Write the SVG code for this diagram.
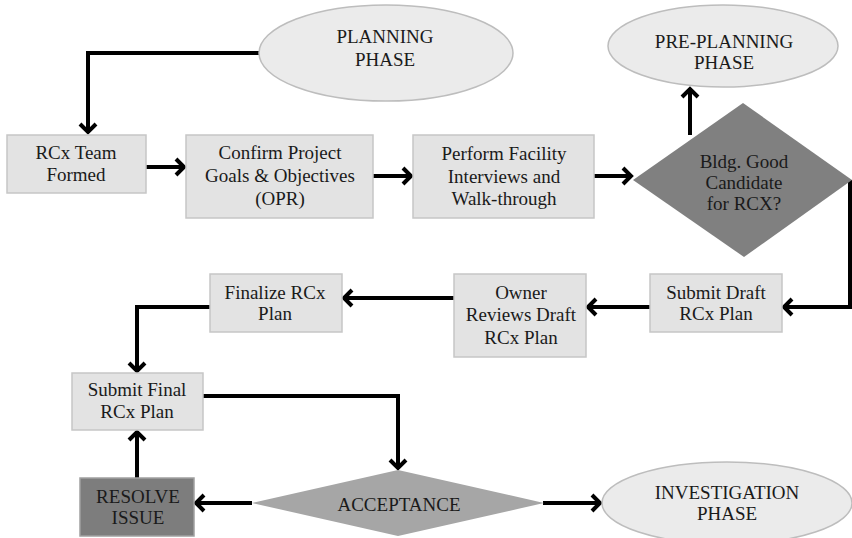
<svg xmlns="http://www.w3.org/2000/svg" width="852" height="538" viewBox="0 0 852 538">
<style>
.box{fill:#e3e3e3;stroke:#c6c6c6;stroke-width:1.5}
.oval{fill:#ebebeb;stroke:#bdbdbd;stroke-width:1.5}
.dk{fill:#808080}
.acc{fill:#a6a6a6}
.res{fill:#7d7d7d;stroke:#a0a0a0;stroke-width:1.5}
text{font-family:"Liberation Serif","Times New Roman",serif;font-size:19px;fill:#1a1a1a;text-anchor:middle}
.c{fill:none;stroke:#000;stroke-width:4;marker-end:url(#ah)}
</style>
<defs>
<marker id="ah" viewBox="0 0 14 20" refX="11" refY="10" markerWidth="14" markerHeight="20" markerUnits="userSpaceOnUse" orient="auto">
<path d="M2,2 L10,10 L2,18" fill="none" stroke="#000" stroke-width="4"/>
</marker>
</defs>
<rect width="852" height="538" fill="#fff"/>
<g id="connectors">
<path class="c" d="M259,53 H88 V133"/>
<path class="c" d="M146,167 H185"/>
<path class="c" d="M373,176 H412"/>
<path class="c" d="M594,176 H632"/>
<path class="c" d="M690,135 V88"/>
<path class="c" d="M850,180 V307 H783"/>
<path class="c" d="M650,307 H587"/>
<path class="c" d="M454,298 H343"/>
<path class="c" d="M210,307 H137 V372"/>
<path class="c" d="M203,396 H398 V469"/>
<path class="c" d="M137,478 V431"/>
<path class="c" d="M252,503 H195"/>
<path class="c" d="M543,503 H601"/>
</g>
<g id="planning">
<ellipse class="oval" cx="386" cy="53" rx="127" ry="48"/>
<text x="385" y="43">PLANNING</text>
<text x="385" y="66">PHASE</text>
</g>
<g id="preplanning">
<ellipse class="oval" cx="723" cy="46" rx="115" ry="41"/>
<text x="724" y="48">PRE-PLANNING</text>
<text x="724" y="69">PHASE</text>
</g>
<g id="team">
<rect class="box" x="7" y="135" width="139" height="58"/>
<text x="76" y="159">RCx Team</text>
<text x="76" y="181">Formed</text>
</g>
<g id="confirm">
<rect class="box" x="186" y="135" width="187" height="83"/>
<text x="280" y="159">Confirm Project</text>
<text x="280" y="182">Goals &amp; Objectives</text>
<text x="280" y="205">(OPR)</text>
</g>
<g id="perform">
<rect class="box" x="413" y="135" width="181" height="83"/>
<text x="504" y="160">Perform Facility</text>
<text x="504" y="183">Interviews and</text>
<text x="504" y="205">Walk-through</text>
</g>
<g id="candidate">
<polygon class="dk" points="633,180 743,103 852,180 744,257"/>
<text x="744" y="168">Bldg. Good</text>
<text x="744" y="189">Candidate</text>
<text x="744" y="210">for RCX?</text>
</g>
<g id="submitdraft">
<rect class="box" x="650" y="274" width="132" height="58"/>
<text x="716" y="299">Submit Draft</text>
<text x="716" y="320">RCx Plan</text>
</g>
<g id="owner">
<rect class="box" x="454" y="274" width="132" height="83"/>
<text x="521" y="299">Owner</text>
<text x="521" y="321">Reviews Draft</text>
<text x="521" y="344">RCx Plan</text>
</g>
<g id="finalize">
<rect class="box" x="210" y="274" width="132" height="58"/>
<text x="275" y="299">Finalize RCx</text>
<text x="275" y="320">Plan</text>
</g>
<g id="submitfinal">
<rect class="box" x="72" y="373" width="131" height="57"/>
<text x="137" y="396">Submit Final</text>
<text x="137" y="418">RCx Plan</text>
</g>
<g id="acceptance">
<polygon class="acc" points="252,503 398,470 544,503 398,536"/>
<text x="399" y="511">ACCEPTANCE</text>
</g>
<g id="resolve">
<rect class="res" x="80" y="478" width="114" height="58"/>
<text x="138" y="503">RESOLVE</text>
<text x="138" y="524">ISSUE</text>
</g>
<g id="investigation">
<ellipse class="oval" cx="727" cy="503" rx="125" ry="41"/>
<text x="727" y="499">INVESTIGATION</text>
<text x="727" y="520">PHASE</text>
</g>
</svg>
